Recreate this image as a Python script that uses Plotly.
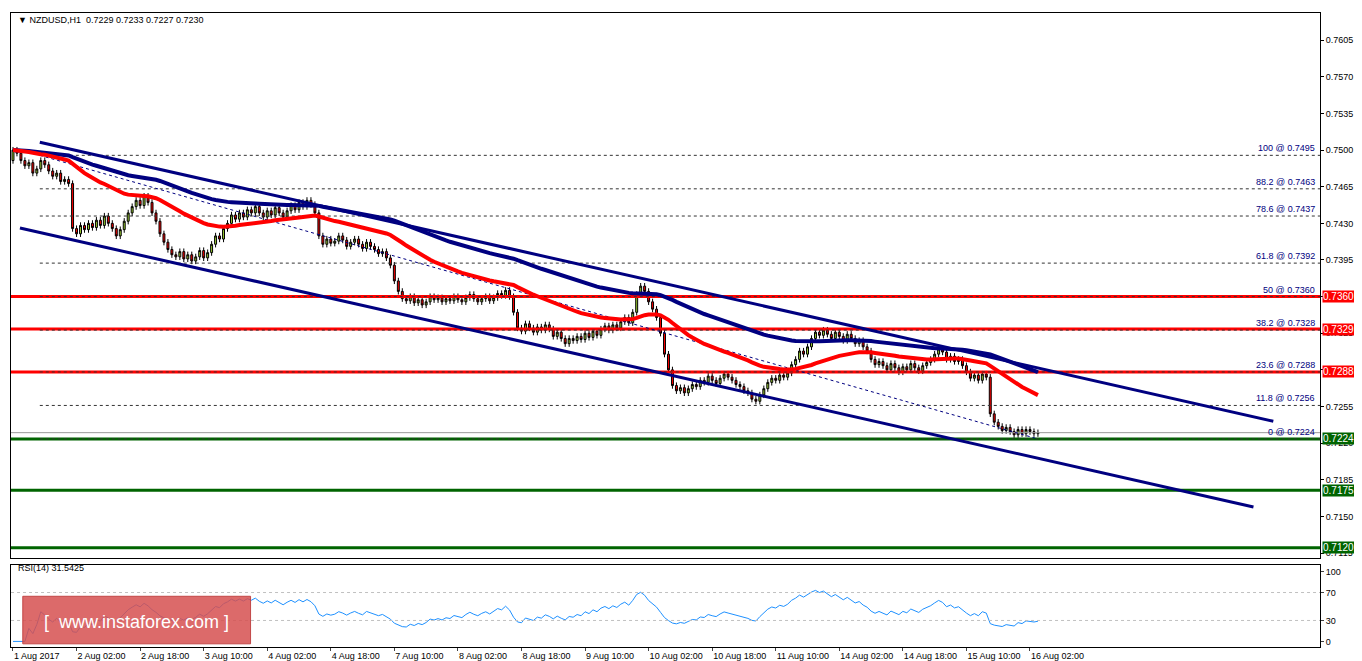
import numpy as np
import pandas as pd
import plotly.graph_objects as go

# hourly closes, NZDUSD H1, from 1 Aug 10:00 to 16 Aug 04:00
closes = [
    0.7500, 0.7497, 0.7490, 0.7485, 0.7488, 0.7478, 0.7482, 0.7490, 0.7486, 0.7480, 0.7475, 0.7478, 0.7470, 0.7472, 0.7468,
    0.7425,
    0.7420, 0.7428, 0.7424, 0.7430, 0.7426, 0.7433, 0.7428, 0.7437, 0.7430, 0.7425, 0.7418, 0.7424, 0.7432, 0.7440, 0.7446,
    0.7452, 0.7447, 0.7456, 0.7450, 0.7440, 0.7432, 0.7420, 0.7412, 0.7405, 0.7400,
    0.7398, 0.7403, 0.7396, 0.7400, 0.7394, 0.7398, 0.7404, 0.7397, 0.7402, 0.7410,
    0.7418, 0.7415, 0.7425, 0.7430, 0.7438, 0.7434, 0.7440, 0.7436, 0.7443, 0.7440,
    0.7446, 0.7440, 0.7436, 0.7442, 0.7438, 0.7445, 0.7440, 0.7436, 0.7442, 0.7447, 0.7443, 0.7450, 0.7446, 0.7452, 0.7448,
    0.7440, 0.7418, 0.7410, 0.7415, 0.7411, 0.7413, 0.7418, 0.7414, 0.7408, 0.7412,
    0.7415, 0.7410, 0.7406, 0.7412, 0.7408, 0.7405, 0.7401, 0.7403, 0.7397, 0.7390,
    0.7375, 0.7365, 0.7358, 0.7356, 0.7360, 0.7354, 0.7357, 0.7352, 0.7355, 0.7360,
    0.7357, 0.7359, 0.7355, 0.7358, 0.7356, 0.7360, 0.7357, 0.7355, 0.7359, 0.7362,
    0.7358, 0.7355, 0.7358, 0.7360, 0.7356, 0.7359, 0.7363, 0.7361, 0.7366, 0.7360,
    0.7345, 0.7330, 0.7327, 0.7334, 0.7330, 0.7326, 0.7331, 0.7328, 0.7333, 0.7329,
    0.7322, 0.7326, 0.7320, 0.7315, 0.7320, 0.7318, 0.7322, 0.7319, 0.7325, 0.7321, 0.7327, 0.7323, 0.7329, 0.7332, 0.7328,
    0.7333, 0.7330, 0.7336, 0.7340, 0.7335, 0.7345, 0.7362, 0.7370, 0.7365, 0.7355,
    0.7348, 0.7340, 0.7325, 0.7305, 0.7290, 0.7275, 0.7270, 0.7273, 0.7268, 0.7272,
    0.7276, 0.7274, 0.7280, 0.7278, 0.7284, 0.7280, 0.7277, 0.7282, 0.7286, 0.7283, 0.7280, 0.7276, 0.7274, 0.7270, 0.7268,
    0.7262, 0.7260, 0.7266, 0.7272, 0.7278, 0.7282, 0.7280, 0.7285, 0.7283, 0.7287,
    0.7295, 0.7300, 0.7308, 0.7305, 0.7312, 0.7320, 0.7326, 0.7323, 0.7328, 0.7324,
    0.7320, 0.7326, 0.7322, 0.7318, 0.7324, 0.7320, 0.7315, 0.7318, 0.7312, 0.7308,
    0.7300, 0.7295, 0.7298, 0.7294, 0.7290, 0.7296, 0.7292, 0.7288, 0.7293, 0.7290, 0.7296, 0.7292, 0.7289, 0.7294, 0.7297,
    0.7300, 0.7305, 0.7310, 0.7307, 0.7300, 0.7303, 0.7298, 0.7300, 0.7294, 0.7288,
    0.7282, 0.7285, 0.7280, 0.7286, 0.7283, 0.7248, 0.7240, 0.7236, 0.7232, 0.7235,
    0.7231, 0.7228, 0.7233, 0.7229, 0.7233, 0.7231, 0.7229, 0.7230,
]
first_open = 0.7490
wick = 0.0003

time_labels = ["1 Aug 2017", "2 Aug 02:00", "2 Aug 18:00", "3 Aug 10:00", "4 Aug 02:00", "4 Aug 18:00",
               "7 Aug 10:00", "8 Aug 02:00", "8 Aug 18:00", "9 Aug 10:00", "10 Aug 02:00", "10 Aug 18:00",
               "11 Aug 10:00", "14 Aug 02:00", "14 Aug 18:00", "15 Aug 10:00", "16 Aug 02:00"]
label_step = 16

fib_levels = [100, 88.2, 78.6, 61.8, 50, 38.2, 23.6, 11.8, 0]
fib_prices = [0.7495, 0.7463, 0.7437, 0.7392, 0.7360, 0.7328, 0.7288, 0.7256, 0.7224]
resistance = [0.7360, 0.7329, 0.7288]
support = [0.7224, 0.7175, 0.7120]
bid = 0.7230
price_ticks = [0.7605, 0.7570, 0.7535, 0.7500, 0.7465, 0.7430, 0.7395, 0.7360, 0.7325, 0.7290, 0.7255, 0.7220, 0.7185, 0.7150, 0.7115]

# channel lines: (bar, price) end points
upper_channel = ([6.75, 317.25], [0.75075, 0.72409])
lower_channel = ([1.75, 312.25], [0.74256, 0.71590])
fib_base = ([6.75, 258], [0.7495, 0.7224])

df = pd.DataFrame({"close": closes})
df["open"] = df["close"].shift(1).fillna(first_open)
df["high"] = df[["open", "close"]].max(axis=1) + wick
df["low"] = df[["open", "close"]].min(axis=1) - wick
bars = np.arange(len(df))

ma_fast = df["close"].ewm(span=40, adjust=False).mean()
ma_slow = df["close"].ewm(span=90, adjust=False).mean()
delta = df["close"].diff().fillna(0)
gain = delta.clip(lower=0).ewm(alpha=1/14, adjust=False).mean()
loss = (-delta.clip(upper=0)).ewm(alpha=1/14, adjust=False).mean()
rsi = 100 - 100 / (1 + gain / loss.replace(0, 1e-9))

fig = go.Figure()
FONT = "Liberation Sans"

for lv in resistance:
    fig.add_trace(go.Scatter(x=[-2, 330], y=[lv, lv], mode="lines", line=dict(color="#ff0000", width=3), hoverinfo="skip"))
for lv in support:
    fig.add_trace(go.Scatter(x=[-2, 330], y=[lv, lv], mode="lines", line=dict(color="#006400", width=3), hoverinfo="skip"))
fig.add_trace(go.Scatter(x=[-2, 330], y=[bid, bid], mode="lines", line=dict(color="#999999", width=1), hoverinfo="skip"))
for p in fib_prices:
    fig.add_trace(go.Scatter(x=[fib_base[0][0], 330], y=[p, p], mode="lines",
                             line=dict(color="#333333", width=1, dash="3px,3px"), hoverinfo="skip"))
fig.add_trace(go.Scatter(x=fib_base[0], y=fib_base[1], mode="lines",
                         line=dict(color="#000080", width=1, dash="3px,3px"), hoverinfo="skip"))

fig.add_trace(go.Scatter(x=bars, y=ma_slow, mode="lines", line=dict(color="#000080", width=4), hoverinfo="skip"))
fig.add_trace(go.Scatter(x=bars, y=ma_fast, mode="lines", line=dict(color="#ff0000", width=4), hoverinfo="skip"))
fig.add_trace(go.Scatter(x=upper_channel[0], y=upper_channel[1], mode="lines", line=dict(color="#000080", width=3), hoverinfo="skip"))
fig.add_trace(go.Scatter(x=lower_channel[0], y=lower_channel[1], mode="lines", line=dict(color="#000080", width=3), hoverinfo="skip"))

fig.add_trace(go.Candlestick(
    x=bars, open=df["open"], high=df["high"], low=df["low"], close=df["close"],
    increasing=dict(fillcolor="#9acd32", line=dict(color="#000000", width=1)),
    decreasing=dict(fillcolor="#ff0000", line=dict(color="#000000", width=1)),
    whiskerwidth=0, hoverinfo="skip",
))

fig.add_trace(go.Scatter(x=bars, y=rsi, mode="lines", line=dict(color="#1e90ff", width=1),
                         xaxis="x2", yaxis="y2", hoverinfo="skip"))
for lv in [70, 30]:
    fig.add_trace(go.Scatter(x=[-2, 330], y=[lv, lv], mode="lines", xaxis="x2", yaxis="y2",
                             line=dict(color="#c0c0c0", width=1, dash="3px,3px"), hoverinfo="skip"))

annotations = []
for lvl, p in zip(fib_levels, fib_prices):
    annotations.append(dict(x=0.998, xref="paper", y=p, yref="y", xanchor="right", yanchor="bottom",
                            text=f"{lvl} @ {p:.4f}", showarrow=False, font=dict(family=FONT, size=9, color="#000080")))
for lv in resistance:
    annotations.append(dict(x=1.0015, xref="paper", y=lv, yref="y", xanchor="left", text=f"{lv:.4f}", showarrow=False,
                            bgcolor="#ff0000", borderpad=0, font=dict(family=FONT, size=10, color="white")))
for lv in support:
    annotations.append(dict(x=1.0015, xref="paper", y=lv, yref="y", xanchor="left", text=f"{lv:.4f}", showarrow=False,
                            bgcolor="#006400", borderpad=0, font=dict(family=FONT, size=10, color="white")))
annotations += [
    dict(x=0.004, xref="paper", y=1, yref="paper", xanchor="left", yanchor="top", showarrow=False,
         text="▼ NZDUSD,H1  0.7229 0.7233 0.7227 0.7230", font=dict(family=FONT, size=9, color="black")),
    dict(x=0.004, xref="paper", y=0.135, yref="paper", xanchor="left", yanchor="top", showarrow=False,
         text="RSI(14) 31.5425", font=dict(family=FONT, size=9, color="black")),
    dict(x=0.096, xref="paper", y=0.04, yref="paper", xanchor="center", yanchor="middle", showarrow=False,
         text="[  www.instaforex.com ]", font=dict(family=FONT, size=18, color="white")),
]

fig.update_layout(
    width=1362, height=661, showlegend=False,
    plot_bgcolor="white", paper_bgcolor="white",
    margin=dict(l=3, r=50, t=5, b=22, autoexpand=False),
    annotations=annotations,
    shapes=[dict(type="rect", xref="paper", yref="paper", x0=0.009, x1=0.183, y0=0.005, y1=0.08,
                 fillcolor="rgba(214,80,80,0.85)", line=dict(color="rgba(190,60,60,0.9)", width=1))],
    xaxis=dict(domain=[0, 1], anchor="y", range=[-0.5, 329], showticklabels=False, showgrid=False,
               rangeslider=dict(visible=False), showline=True, linecolor="black", mirror=True, zeroline=False),
    yaxis=dict(domain=[0.14, 1], side="right", range=[0.7110, 0.7631], tickvals=price_ticks,
               ticktext=[f"{p:.4f}" for p in price_ticks], showgrid=False, ticks="outside", ticklen=3,
               tickcolor="black", showline=True, linecolor="black", mirror=True, zeroline=False,
               tickfont=dict(family=FONT, size=9, color="black")),
    xaxis2=dict(domain=[0, 1], anchor="y2", matches="x", showgrid=False, ticks="outside", ticklen=3,
                tickvals=[i * label_step for i in range(len(time_labels))], ticktext=time_labels,
                ticklabelposition="outside right", showline=True, linecolor="black", mirror=True,
                zeroline=False, tickfont=dict(family=FONT, size=9, color="black")),
    yaxis2=dict(domain=[0, 0.13], side="right", range=[-8, 110], tickvals=[0, 30, 70, 100],
                showgrid=False, ticks="outside", ticklen=3, showline=True, linecolor="black", mirror=True,
                zeroline=False, tickfont=dict(family=FONT, size=9, color="black")),
)

fig.write_html("out.html")
